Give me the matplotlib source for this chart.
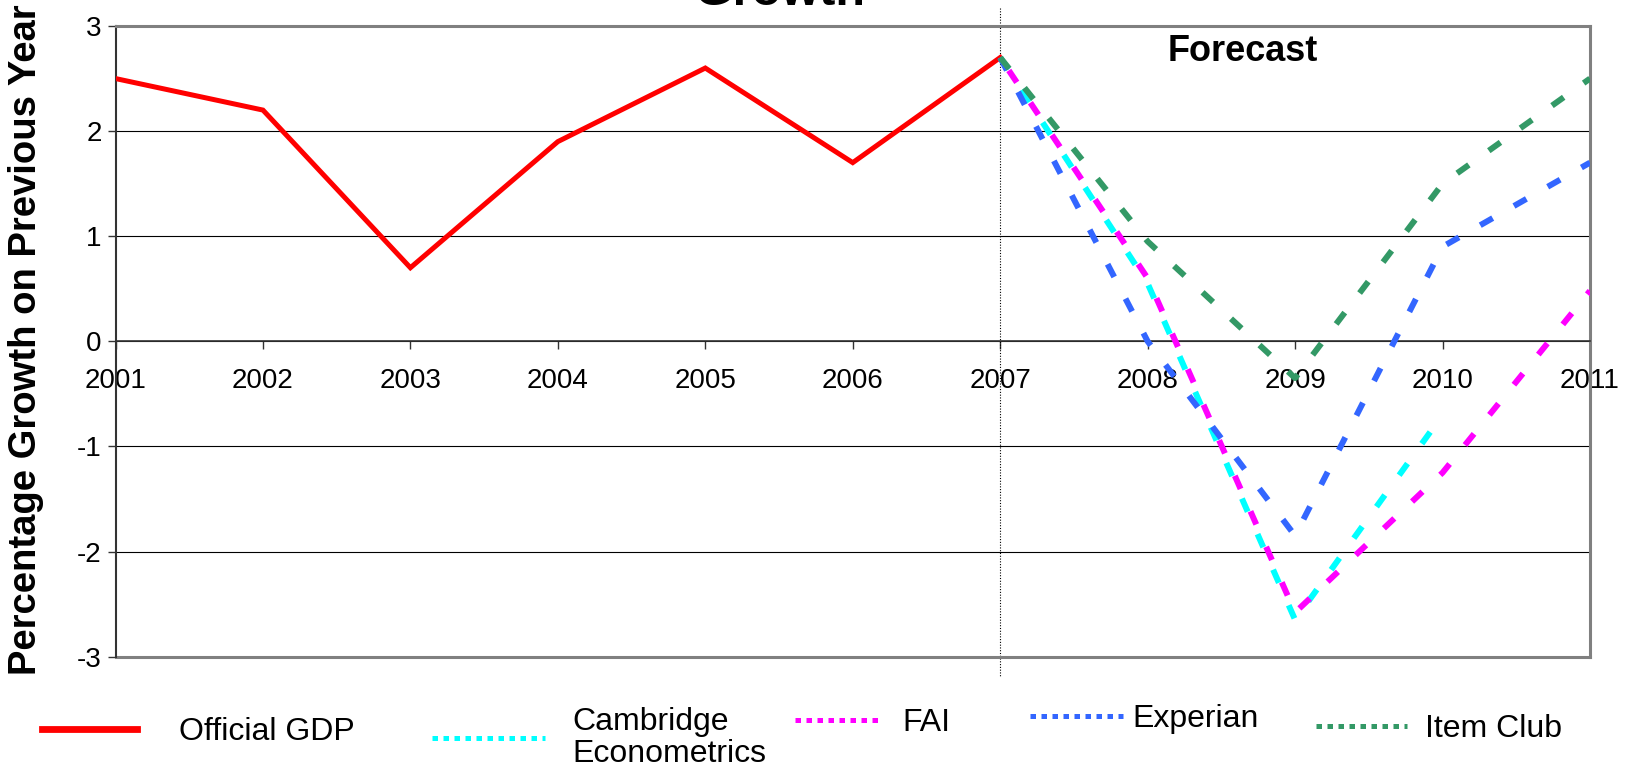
#GDP growth: official figures and forecasts to 2011
import numpy as np
import matplotlib.pyplot as plt
from matplotlib.lines import Line2D

plt.rcParams['font.family'] = ['Liberation Sans', 'DejaVu Sans']
plt.rcParams['axes.unicode_minus'] = False

#official growth
years = [2001, 2002, 2003, 2004, 2005, 2006, 2007]
official_gdp = [2.5, 2.2, 0.7, 1.9, 2.6, 1.7, 2.7]

#forecasts, starting from the last official year
fc_years = [2007, 2008, 2009, 2010, 2011]
cambridge = [2.7, 0.55, -2.65, -0.7, np.nan]
fai = [2.7, 0.6, -2.58, -1.25, 0.48]
experian = [2.7, 0.0, -1.85, 0.9, 1.7]
item_club = [2.7, 0.95, -0.35, 1.5, 2.5]

fc_names = ['Cambridge\nEconometrics', 'FAI', 'Experian', 'Item Club']
fc_values = [cambridge, fai, experian, item_club]
fc_colors = ['#00FFFF', '#FF00FF', '#3366FF', '#339966']
#dash phase per line so overlapping forecasts alternate
fc_offsets = [0, 3.9, 0, 0]

W, H = 1632, 771
fig = plt.figure(figsize=(W/100, H/100), dpi=100)
ax = fig.add_axes([115.5/W, 1-656.6/H, (1590-115.5)/W, (656.6-26)/H])

ax.plot(years, official_gdp, color='#FF0000', lw=3.6, solid_joinstyle='miter', zorder=3)
for vals, c, off in zip(fc_values, fc_colors, fc_offsets):
    ax.plot(fc_years, vals, color=c, lw=4.3, linestyle=(off, (2.4, 4.1)),
            dash_capstyle='butt', zorder=3)

#forecast divider
ax.plot([years[-1], years[-1]], [3.17, -3.18], color='black', lw=0.8,
        linestyle=(0, (1, 1.5)), clip_on=False, zorder=2)

ax.set_xlim(2001, 2011)
ax.set_ylim(-3, 3)
ax.set_xticks(range(2001, 2012))
ax.set_yticks(range(-3, 4))
ax.yaxis.grid(True, color='black', lw=0.8)
ax.set_axisbelow(True)

ax.spines['bottom'].set_position(('data', 0))
ax.spines['bottom'].set_color('#333333')
ax.spines['bottom'].set_linewidth(1.2)
ax.spines['left'].set_color('#333333')
ax.spines['left'].set_linewidth(1.5)
for s in ['top', 'right']:
    ax.spines[s].set_color('#808080')
    ax.spines[s].set_linewidth(2.2)
ax.axhline(-3, color='#808080', lw=2.2, clip_on=False, zorder=2.5)

ax.tick_params(axis='y', direction='out', length=6, width=1, labelsize=20,
               pad=4, color='#333333')
ax.tick_params(axis='x', direction='out', length=6, width=1, labelsize=20,
               pad=13, color='#333333')

ax.text(0.7645, 0.9445, 'Forecast', transform=ax.transAxes, ha='center',
        va='baseline', fontsize=26, fontweight='bold')

fig.text(780/W, 1-5/H, 'Growth', ha='center', va='baseline', fontsize=35,
         fontweight='bold')
fig.text(26/W, 1-340/H, 'Percentage Growth on Previous Year', rotation=90,
         ha='center', va='center', fontsize=27.5, fontweight='bold')

#legend, one entry at a time
dot = (0, (1.1, 1.1))
entries = [
    ('Official GDP', Line2D([], [], color='#FF0000', lw=4.9), 42, 732, 2.97, 1.33),
    (fc_names[0], Line2D([], [], color=fc_colors[0], lw=3.6, linestyle=dot), 432, 738, 3.55, 0.85),
    (fc_names[1], Line2D([], [], color=fc_colors[1], lw=3.6, linestyle=dot), 795, 723, 2.6, 0.75),
    (fc_names[2], Line2D([], [], color=fc_colors[2], lw=3.6, linestyle=dot), 1030, 719, 2.9, 0.3),
    (fc_names[3], Line2D([], [], color=fc_colors[3], lw=3.6, linestyle=dot), 1316, 729, 2.85, 0.57),
]
for label, h, x0, yc, hl, tp in entries:
    leg = fig.legend([h], [label], loc='center left', bbox_to_anchor=(x0/W, 1-yc/H),
                     frameon=False, fontsize=23, borderpad=0, borderaxespad=0,
                     handlelength=hl, handletextpad=tp)
    leg.get_texts()[0].set_linespacing(1.1)

fig.savefig('out.png', dpi=100)
